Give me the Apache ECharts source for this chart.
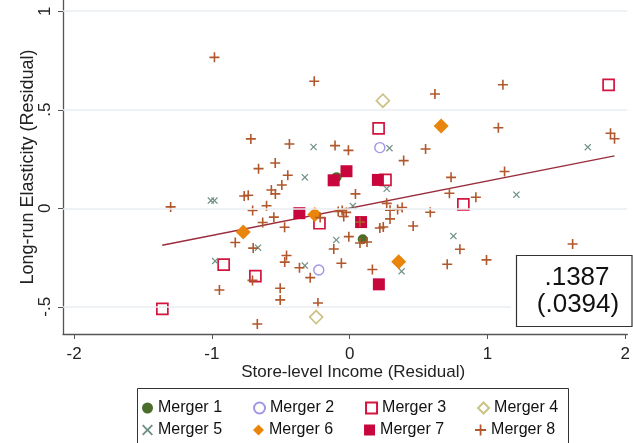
<!DOCTYPE html>
<html>
<head>
<meta charset="utf-8">
<script src="https://cdn.jsdelivr.net/npm/echarts@6/dist/echarts.min.js"></script>
<style>
  html, body { margin: 0; padding: 0; background: #fff; }
  #chart { width: 633px; height: 443px; }
</style>
</head>
<body>
<div id="chart"></div>
<script>
// values, [income residual, elasticity residual]
const merger1 = [[-0.095, 0.158], [0.095, -0.157]];
const merger2 = [[0.219, 0.308], [-0.224, -0.313]];
const merger3 = [
  [0.21, 0.406], [0.26, 0.144], [-0.219, -0.076], [0.825, 0.02],
  [-0.914, -0.286], [-0.684, -0.344], [-1.359, -0.51], [1.879, 0.626]
];
const merger4 = [[0.241, 0.546], [-0.243, -0.552]];
const merger5 = [
  [-0.262, 0.311], [0.289, 0.305], [-0.325, 0.157], [-1.007, 0.039], [-0.981, 0.039],
  [0.269, 0.099], [0.023, 0.012], [-0.097, -0.161], [-0.665, -0.2], [-0.976, -0.268],
  [-0.325, -0.291], [0.377, -0.32], [1.21, 0.069], [0.753, -0.141], [1.728, 0.31]
];
const merger6 = [[0.664, 0.418], [-0.253, -0.032], [-0.772, -0.12], [0.356, -0.271]];
const merger7 = [
  [-0.116, 0.142], [-0.023, 0.188], [0.205, 0.144], [-0.365, -0.025],
  [0.083, -0.07], [0.212, -0.386]
];
const merger8 = [
  [-0.981, 0.766], [-0.257, 0.645], [0.619, 0.58], [1.112, 0.627], [1.079, 0.409],
  [1.893, 0.381], [1.922, 0.353], [-0.717, 0.352], [-0.437, 0.326], [-0.106, 0.318],
  [-0.009, 0.294], [0.551, 0.301], [0.392, 0.242], [-0.54, 0.23], [-0.661, 0.201],
  [-0.449, 0.168], [-0.492, 0.118], [-0.568, 0.093], [-0.539, 0.073], [-0.765, 0.062],
  [-0.736, 0.066], [0.042, 0.073], [0.736, 0.157], [1.124, 0.187], [0.724, 0.076],
  [0.916, 0.056], [-0.603, 0.013], [-0.704, -0.011], [-0.55, -0.045], [-0.631, -0.072],
  [-0.472, -0.096], [-1.299, 0.007], [-0.214, -0.047], [-0.083, -0.016], [-0.054, -0.011],
  [-0.025, -0.021], [-0.043, -0.042], [0.269, 0.025], [0.293, -0.01], [0.348, -0.006],
  [0.381, 0.004], [0.585, -0.02], [0.293, -0.054], [0.075, -0.07], [0.219, -0.1],
  [0.244, -0.095], [0.461, -0.09], [-0.006, -0.144], [0.075, -0.176], [0.126, -0.171],
  [-0.115, -0.207], [-0.83, -0.174], [-0.7, -0.202], [-0.458, -0.24], [-0.471, -0.273],
  [-0.06, -0.279], [-0.364, -0.302], [-0.286, -0.352], [0.165, -0.311], [-0.23, -0.481],
  [-0.705, -0.366], [-0.945, -0.415], [-0.504, -0.406], [-0.504, -0.465], [-0.67, -0.587],
  [0.708, -0.284], [0.8, -0.208], [0.993, -0.262], [1.618, -0.181]
];
// fitted line end points
const fitLine = [[-1.36, -0.188], [1.922, 0.266]];

const xTickVals = [-2, -1, 0, 1, 2];
const xTickLabels = ['-2', '-1', '0', '1', '2'];
const yTickVals = [-0.5, 0, 0.5, 1];
const yTickLabels = ['-.5', '0', '.5', '1'];
const slopeText = '.1387';
const seText = '(.0394)';

const FONT = '"Liberation Sans", Arial, sans-serif';
const PLUS = 'path://M0,4.2H10V5.8H0Z M4.2,0H5.8V10H4.2Z';
const CROSS = 'path://M0,1.2L1.2,0L5,3.8L8.8,0L10,1.2L6.2,5L10,8.8L8.8,10L5,6.2L1.2,10L0,8.8L3.8,5Z';

function scatter(name, data, symbol, size, style) {
  style.opacity = 1;
  return {
    name: name, type: 'scatter', data: data, symbol: symbol, symbolSize: size,
    itemStyle: style, z: 3, emphasis: { disabled: true }
  };
}
function hollow(c, w) {
  return { color: 'rgba(255,255,255,0)', borderColor: c, borderWidth: w };
}
function legendRow(names, top) {
  return {
    data: names, left: 142, top: top, padding: 0,
    itemWidth: 11, itemHeight: 11, itemGap: 31, selectedMode: false,
    textStyle: { fontSize: 16, color: '#111', fontFamily: FONT }
  };
}

const chart = echarts.init(document.getElementById('chart'));
chart.setOption({
  animation: false,
  textStyle: { fontFamily: FONT },
  grid: { left: 63, right: 0, top: 0, bottom: 109 },
  xAxis: {
    type: 'value', min: -2.08, max: 2.015,
    name: 'Store-level Income (Residual)', nameLocation: 'middle', nameGap: 30,
    nameMoveOverlap: false,
    nameTextStyle: { fontSize: 17, color: '#222', fontFamily: FONT, padding: [0, 0, 0, 16] },
    axisLine: { show: true, onZero: false, lineStyle: { color: '#555', width: 1.3 } },
    axisTick: { show: true, length: 5, customValues: xTickVals, lineStyle: { color: '#555' } },
    axisLabel: {
      customValues: xTickVals, margin: 12, fontSize: 17, color: '#222', fontFamily: FONT,
      formatter: v => xTickLabels[xTickVals.indexOf(v)]
    },
    splitLine: { show: false }
  },
  yAxis: {
    type: 'value', min: -0.638, max: 1.057,
    name: 'Long-run Elasticity (Residual)', nameLocation: 'middle', nameGap: 26,
    nameMoveOverlap: false,
    nameTextStyle: { fontSize: 18, color: '#222', fontFamily: FONT },
    axisLine: { show: true, onZero: false, lineStyle: { color: '#555', width: 1.3 } },
    axisTick: { show: true, length: 5, customValues: yTickVals, lineStyle: { color: '#555' } },
    axisLabel: {
      customValues: yTickVals, rotate: 90, margin: 9, fontSize: 17, color: '#222', fontFamily: FONT,
      formatter: v => yTickLabels[yTickVals.indexOf(v)]
    },
    splitLine: { show: false }
  },
  legend: [
    legendRow(['Merger 1', 'Merger 2', 'Merger 3', 'Merger 4'], 400),
    legendRow(['Merger 5', 'Merger 6', 'Merger 7', 'Merger 8'], 422)
  ],
  series: [
    {
      type: 'line', data: fitLine, symbol: 'none', z: 1, silent: true,
      lineStyle: { color: '#9a2d3c', width: 1.5 },
      markLine: {
        silent: true, symbol: ['none', 'none'], label: { show: false },
        lineStyle: { color: '#e8eef1', width: 1.5, type: 'solid' },
        data: yTickVals.map(v => ({ yAxis: v }))
      }
    },
    scatter('Merger 1', merger1, 'circle', 10, { color: '#4b6d2b' }),
    scatter('Merger 2', merger2, 'circle', 10, hollow('#9f97e6', 1.4)),
    scatter('Merger 3', merger3, 'rect', 11, hollow('#d2143f', 1.7)),
    scatter('Merger 4', merger4, 'diamond', 13, hollow('#ccc387', 1.7)),
    scatter('Merger 5', merger5, CROSS, 7, { color: '#6f9085' }),
    scatter('Merger 6', merger6, 'diamond', 15, { color: '#e8850a' }),
    scatter('Merger 7', merger7, 'rect', 12, { color: '#c8053c' }),
    scatter('Merger 8', merger8, PLUS, 10, { color: '#b0582c' })
  ],
  graphic: [
    { type: 'rect', z: 10, shape: { x: 511, y: 250, width: 122, height: 82 }, style: { fill: '#fff' } },
    {
      type: 'rect', z: 11, shape: { x: 516.5, y: 255.5, width: 115.5, height: 71 },
      style: { fill: '#fff', stroke: '#333', lineWidth: 1.2 }
    },
    {
      type: 'text', z: 12, x: 577, y: 278,
      style: { text: slopeText, font: '26px ' + FONT, fill: '#111', align: 'center', verticalAlign: 'middle' }
    },
    {
      type: 'text', z: 12, x: 578, y: 305,
      style: { text: seText, font: '26px ' + FONT, fill: '#111', align: 'center', verticalAlign: 'middle' }
    },
    {
      type: 'rect', z: 10, shape: { x: 137.5, y: 388.5, width: 431, height: 70 },
      style: { fill: 'none', stroke: '#333', lineWidth: 1 }
    }
  ]
});
</script>
</body>
</html>
